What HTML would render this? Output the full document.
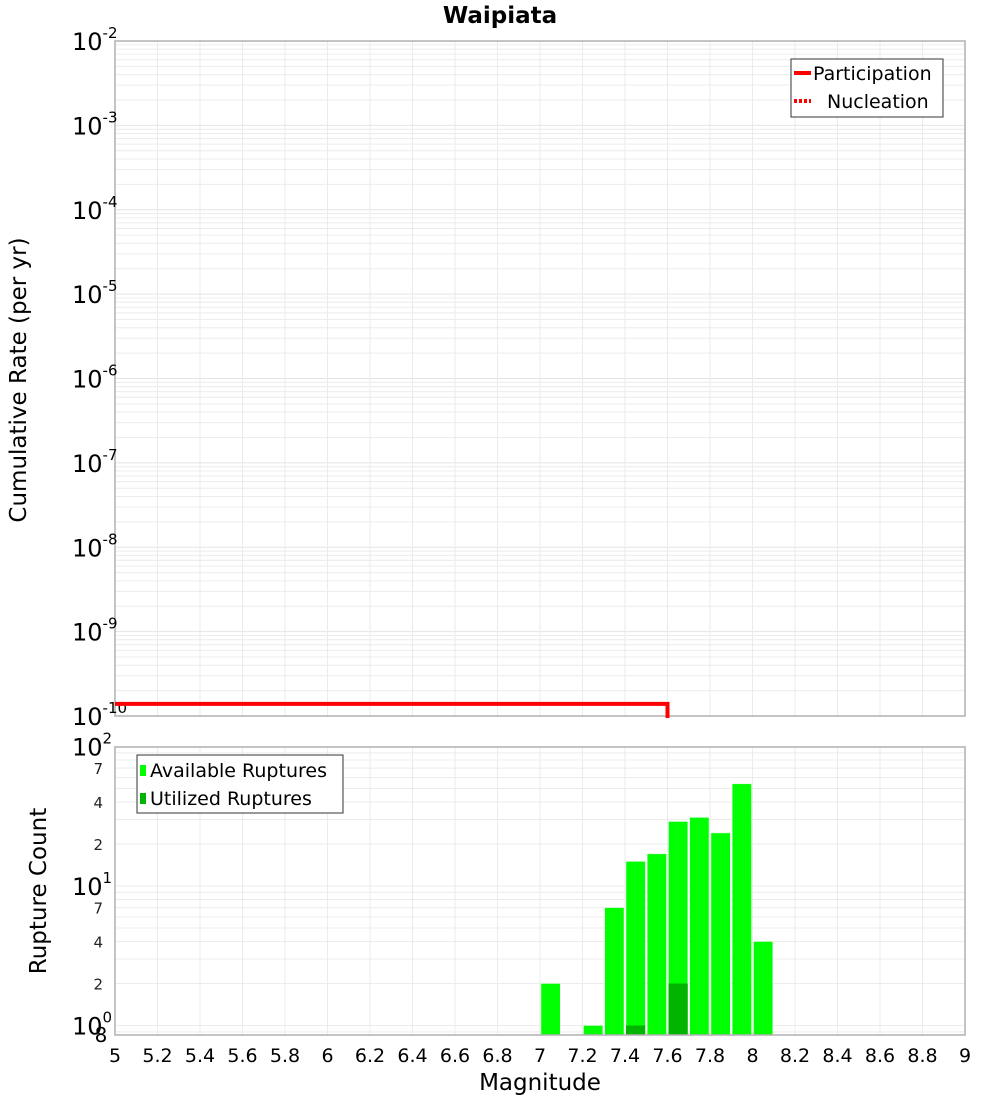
<!DOCTYPE html>
<html><head><meta charset="utf-8"><style>
body{margin:0;background:#fff;font-family:"DejaVu Sans","Liberation Sans",sans-serif}
text{font-family:"DejaVu Sans","Liberation Sans",sans-serif}
</style></head><body>
<svg id="c" width="1000" height="1100" xmlns="http://www.w3.org/2000/svg">
<text x="500" y="23" text-anchor="middle" font-size="23" font-weight="bold">Waipiata</text>
<g id="topg"></g>
<g id="botg"></g>
<text transform="translate(26,380) rotate(-90)" text-anchor="middle" font-size="23">Cumulative Rate (per yr)</text>
<text transform="translate(46,891) rotate(-90)" text-anchor="middle" font-size="23">Rupture Count</text>
<text x="540" y="1090" text-anchor="middle" font-size="23">Magnitude</text>
</svg>
<script>
const xTicks=[5,5.2,5.4,5.6,5.8,6,6.2,6.4,6.6,6.8,7,7.2,7.4,7.6,7.8,8,8.2,8.4,8.6,8.8,9];
const rateDecades=[-10,-9,-8,-7,-6,-5,-4,-3,-2];
const partMags=[5,7.6];
const partRates=[1.39e-10,1.39e-10];
const binMags=[7.0,7.2,7.3,7.4,7.5,7.6,7.7,7.8,7.9,8.0];
const availCounts=[2,1,7,15,17,29,31,24,54,4];
const utilMags=[7.4,7.6];
const utilCounts=[1,2];
const countTickVals=[2,4,7,20,40,70];

const NS="http://www.w3.org/2000/svg";
const L=115,R=965;
const X=m=>L+(m-5)/4*(R-L);
const T0=41,T1=716;
const YT=v=>T1-(Math.log10(v)+10)/8*(T1-T0);
const B0=747,B1=1035;
const YB=v=>1025.5-Math.log10(v)*139.5;
function el(p,tag,a,txt){const e=document.createElementNS(NS,tag);for(const k in a)e.setAttribute(k,a[k]);if(txt!==undefined)e.textContent=txt;p.appendChild(e);return e;}
const topG=document.getElementById('topg'),botG=document.getElementById('botg');

for(let d=-10;d<-2;d++)for(let k=1;k<10;k++){const y=YT(k*Math.pow(10,d));
const g=el(topG,'line',{x1:L,x2:R,y1:y,y2:y,stroke:k==1?'#e4e4e4':'#ececec','stroke-width':1});

}
xTicks.forEach(m=>{const g=el(topG,'line',{x1:X(m),x2:X(m),y1:T0,y2:T1,stroke:'#ebebeb'});

});
const fr=el(topG,'rect',{x:L,y:T0,width:R-L,height:T1-T0,fill:'none',stroke:'#b0b0b0','stroke-width':1.5});


rateDecades.forEach(d=>{const y=YT(Math.pow(10,d));
const t=el(topG,'text',{x:72,y:y+9,'font-size':24});


t.textContent='10';const s=el(t,'tspan',{dy:-12,'font-size':15});s.textContent=String(d);});
{let d='M'+X(partMags[0])+','+YT(partRates[0]);
for(let i=1;i<partMags.length;i++)d+=' L'+X(partMags[i])+','+YT(partRates[i]);
d+=' L'+X(partMags[partMags.length-1])+','+(T1+2);
const p=el(topG,'path',{d:d,fill:'none',stroke:'#ff0000','stroke-width':4});

}
{const g=el(topG,'g',{});


el(g,'rect',{x:791,y:59,width:152,height:58,fill:'#fff',stroke:'#333','stroke-width':1});
el(g,'line',{x1:794,x2:811,y1:73,y2:73,stroke:'#f00','stroke-width':4});
el(g,'line',{x1:794,x2:811,y1:101,y2:101,stroke:'#f00','stroke-width':4,'stroke-dasharray':'3,2'});
el(g,'text',{x:813,y:80,'font-size':19},'Participation');
el(g,'text',{x:827,y:108,'font-size':19},'Nucleation');}

for(let d=-1;d<2;d++)for(let k=1;k<10;k++){const v=k*Math.pow(10,d);if(v<0.85)continue;const y=YB(v);
const g=el(botG,'line',{x1:L,x2:R,y1:y,y2:y,stroke:'#ececec'});

}
xTicks.forEach(m=>{const g=el(botG,'line',{x1:X(m),x2:X(m),y1:B0,y2:B1,stroke:'#ebebeb'});

});
binMags.forEach((m,i)=>{const y=YB(availCounts[i]);
const r=el(botG,'rect',{x:X(m)+1,y:y,width:X(m+0.1)-X(m)-2,height:B1-y,fill:'#00ff00',stroke:'#ddf8dd','stroke-width':0.5});

});
utilMags.forEach((m,i)=>{const y=YB(utilCounts[i]);
const r=el(botG,'rect',{x:X(m)+1,y:y,width:X(m+0.1)-X(m)-2,height:B1-y,fill:'#00b400'});

});
const fb=el(botG,'rect',{x:L,y:B0,width:R-L,height:B1-B0,fill:'none',stroke:'#b0b0b0','stroke-width':1.5});


[[100,2],[10,1],[1,0]].forEach(([v,e])=>{const y=YB(v);
const t=el(botG,'text',{x:72,y:y+9,'font-size':24});


t.textContent='10';const s=el(t,'tspan',{dy:-12,'font-size':15});s.textContent=String(e);});
countTickVals.forEach(v=>{const t=el(botG,'text',{x:103,y:YB(v)+6,'font-size':15,'text-anchor':'end',fill:'#222'},String(v).charAt(0));

});
{const t=el(botG,'text',{x:101,y:1042,'font-size':20,'text-anchor':'middle'},'8');

}
xTicks.forEach(m=>{const t=el(botG,'text',{x:X(m),y:1062,'font-size':19,'text-anchor':'middle'},String(m));

});
{const g=el(botG,'g',{});


el(g,'rect',{x:137,y:755,width:206,height:58,fill:'#fff',stroke:'#333','stroke-width':1});
el(g,'rect',{x:140,y:765,width:6,height:11,fill:'#00ff00'});
el(g,'rect',{x:140,y:793,width:6,height:11,fill:'#00b400'});
el(g,'text',{x:150,y:777,'font-size':19},'Available Ruptures');
el(g,'text',{x:150,y:805,'font-size':19},'Utilized Ruptures');}
</script>
</body></html>
